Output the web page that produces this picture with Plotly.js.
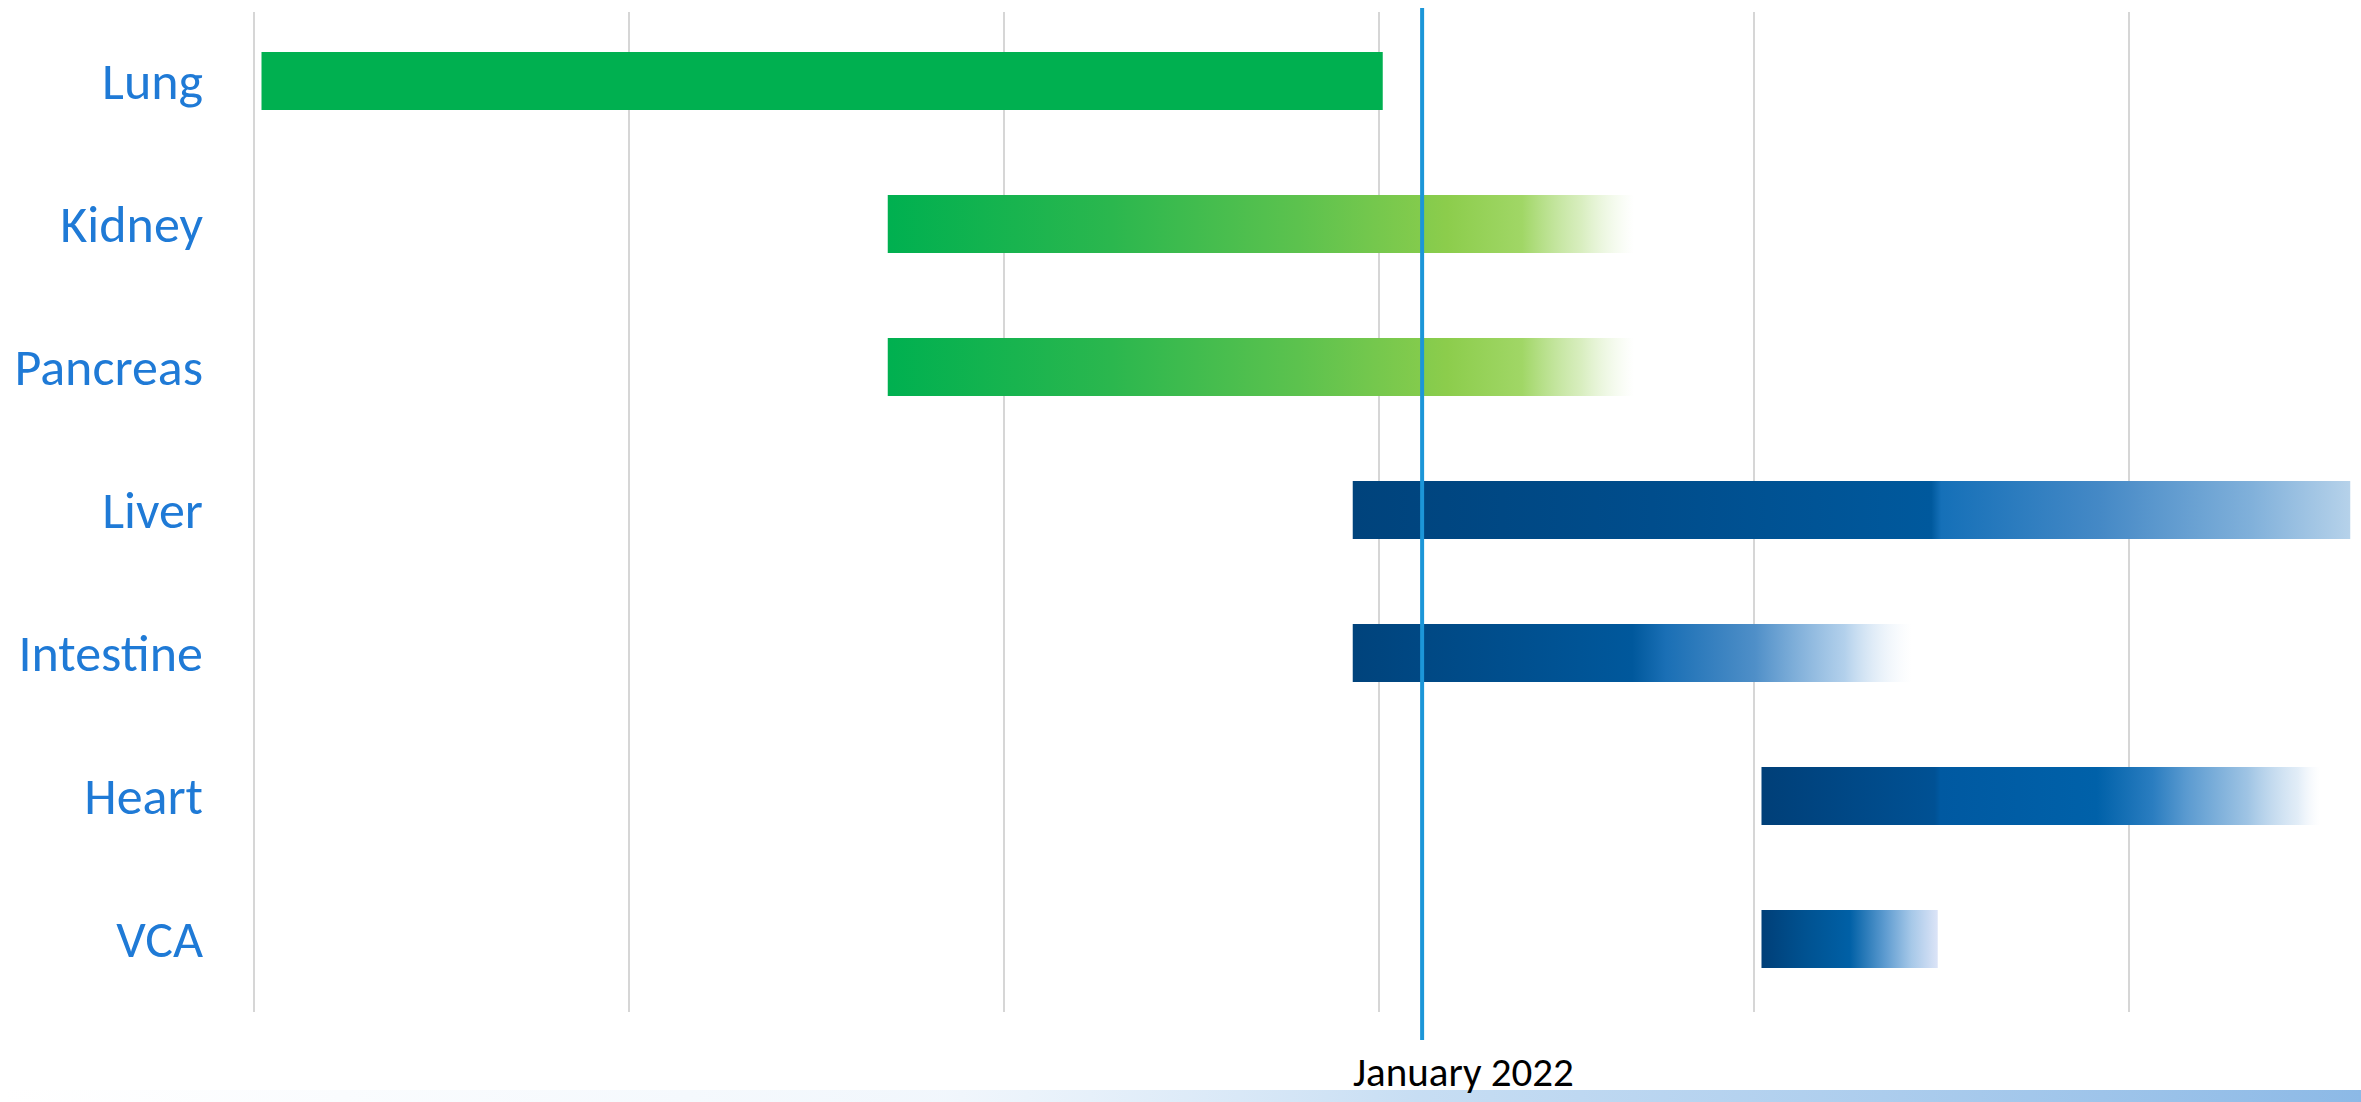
<!DOCTYPE html>
<html>
<head>
<meta charset="utf-8">
<script src="https://cdn.plot.ly/plotly-3.0.1.min.js"></script>
<style>
  html, body { margin: 0; padding: 0; background: #ffffff; }
  #chart { width: 2361px; height: 1102px; }
</style>
</head>
<body>
<div id="chart"></div>
<script>
// ---------- data ----------
const organs      = ['Lung', 'Kidney', 'Pancreas', 'Liver', 'Intestine', 'Heart', 'VCA'];
const startValues = [0.02, 1.69, 1.69, 2.93, 2.93, 4.02, 4.02];
const endValues   = [3.01, 3.68, 3.68, 5.59, 4.42, 5.51, 4.49];
const markerValue = 3.115;
const markerLabel = 'January 2022';

// ---------- styles ----------
const greenSolid = [[0, '#00B050'], [1, '#00B050']];
const greenFade = [[0, '#00B050'], [0.3, '#2BB74E'], [0.55, '#5CC24E'], [0.75, '#8CCD4C'],
                   [0.85, 'rgba(150,210,85,0.9)'], [0.93, 'rgba(185,224,140,0.55)'], [1, 'rgba(215,238,190,0)']];
const liverFade = [[0, '#00437C'], [0.3, '#004D8C'], [0.58, '#00599D'], [0.59, '#1570B8'],
                   [0.75, '#4589C6'], [0.9, '#80B0DA'], [1, '#B6D2EA']];
const intestineFade = [[0, '#00437C'], [0.5, '#00589C'], [0.56, '#1A6FB5'], [0.72, '#4F8FC8'],
                       [0.88, 'rgba(165,200,232,0.85)'], [1, 'rgba(225,236,248,0)']];
const heartFade = [[0, '#003F78'], [0.31, '#005194'], [0.32, '#0059A1'], [0.6, '#0061A9'],
                   [0.7, '#2A7DC0'], [0.76, '#5A9AD0'], [0.87, '#9FC4E4'], [0.96, 'rgba(213,229,244,0.7)'], [1, 'rgba(235,242,250,0)']];
const vcaFade = [[0, '#003F78'], [0.25, '#005291'], [0.5, '#0060A6'], [0.7, '#5D9BD0'],
                 [0.85, '#A6C8E8'], [1, '#DCE4F7']];
const barScales = [greenSolid, greenFade, greenFade, liverFade, intestineFade, heartFade, vcaFade];
const halfBar = 0.203;

const traces = organs.map((name, i) => {
  const s = startValues[i], e = endValues[i];
  return {
    type: 'scatter',
    mode: 'lines',
    name: name,
    x: [s, e, e, s, s],
    y: [i - halfBar, i - halfBar, i + halfBar, i + halfBar, i - halfBar],
    fill: 'toself',
    fillcolor: barScales[i][0][1],
    fillgradient: { type: 'horizontal', start: s, stop: e, colorscale: barScales[i] },
    line: { width: 0, color: 'rgba(0,0,0,0)' },
    hoverinfo: 'skip',
    showlegend: false
  };
});

// decorative footer band (slide strip) on hidden axes
const bandExtent = [0, 1];
traces.push({
  type: 'scatter', mode: 'lines', xaxis: 'x2', yaxis: 'y2',
  x: [bandExtent[0], bandExtent[1], bandExtent[1], bandExtent[0], bandExtent[0]],
  y: [bandExtent[0], bandExtent[0], bandExtent[1], bandExtent[1], bandExtent[0]],
  fill: 'toself', fillcolor: '#A6C9EE',
  fillgradient: { type: 'horizontal', start: 0, stop: 1,
    colorscale: [[0, 'rgba(200,222,244,0)'], [0.4, 'rgba(200,222,244,0.25)'], [0.6, 'rgba(185,213,240,0.8)'], [1, '#8CB9E6']] },
  line: { width: 0, color: 'rgba(0,0,0,0)' },
  hoverinfo: 'skip', showlegend: false
});

const W = 2361, H = 1102;
const layout = {
  width: W, height: H,
  margin: { l: 0, r: 0, t: 0, b: 0, pad: 0 },
  paper_bgcolor: '#ffffff', plot_bgcolor: 'rgba(0,0,0,0)',
  font: { family: 'Carlito, Calibri, Lato, sans-serif' },
  xaxis: {
    domain: [212 / W, 1],
    range: [-0.112, 5.6187],
    tick0: 0, dtick: 1,
    showgrid: true, gridcolor: '#D6D6D6', gridwidth: 1.5,
    showticklabels: false, ticks: '', zeroline: false, showline: false,
    fixedrange: true
  },
  yaxis: {
    domain: [(H - 1012) / H, (H - 12) / H],
    range: [6.51, -0.483],
    tickmode: 'array',
    tickvals: organs.map((_, i) => i),
    ticktext: organs,
    tickfont: { family: 'Carlito, Calibri, Lato, sans-serif', size: 52, color: '#1F7AD6' },
    ticklabelstandoff: 8,
    showgrid: false, zeroline: false, showline: false, ticks: '',
    fixedrange: true
  },
  xaxis2: { domain: [0, 1], anchor: 'y2', range: [0, 1], visible: false, fixedrange: true },
  yaxis2: { domain: [0, 12 / H], anchor: 'x2', range: [0, 1], visible: false, fixedrange: true },
  shapes: [{
    type: 'line', layer: 'above',
    xref: 'x', yref: 'paper',
    x0: markerValue, x1: markerValue,
    y0: (H - 1040) / H, y1: (H - 8) / H,
    line: { color: '#1C96D8', width: 4 }
  }],
  annotations: [{
    text: markerLabel,
    xref: 'x', yref: 'paper',
    x: markerValue, xshift: 41, xanchor: 'center',
    y: (H - 1072) / H, yanchor: 'middle',
    showarrow: false,
    font: { family: 'Carlito, Calibri, Lato, sans-serif', size: 41, color: '#000000' }
  }]
};

Plotly.newPlot('chart', traces, layout, { displayModeBar: false, staticPlot: true });
</script>
</body>
</html>
